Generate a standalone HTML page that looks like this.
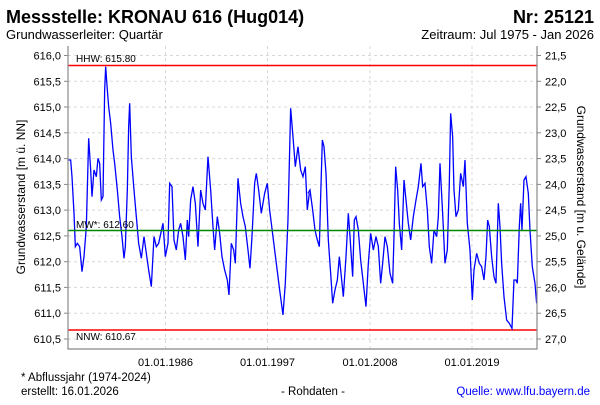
<!DOCTYPE html>
<html><head><meta charset="utf-8"><style>
body{margin:0;background:#fff;}
svg text{font-family:"Liberation Sans",sans-serif;}
</style></head><body>
<svg width="600" height="400" viewBox="0 0 600 400" xmlns="http://www.w3.org/2000/svg">
<rect width="600" height="400" fill="#fff"/>
<text x="6" y="23" font-size="18" font-weight="bold">Messstelle: KRONAU 616 (Hug014)</text>
<text x="594" y="23" font-size="18" font-weight="bold" text-anchor="end">Nr: 25121</text>
<text x="6" y="39" font-size="13">Grundwasserleiter: Quartär</text>
<text x="594" y="39" font-size="13" text-anchor="end">Zeitraum: Jul 1975 - Jan 2026</text>
<g stroke="#d8d8d8" stroke-dasharray="3,3" stroke-width="1">
<line x1="68" x2="537" y1="55.5" y2="55.5"/><line x1="68" x2="537" y1="81.3" y2="81.3"/><line x1="68" x2="537" y1="107" y2="107"/><line x1="68" x2="537" y1="132.8" y2="132.8"/><line x1="68" x2="537" y1="158.6" y2="158.6"/><line x1="68" x2="537" y1="184.4" y2="184.4"/><line x1="68" x2="537" y1="210.1" y2="210.1"/><line x1="68" x2="537" y1="235.9" y2="235.9"/><line x1="68" x2="537" y1="261.7" y2="261.7"/><line x1="68" x2="537" y1="287.4" y2="287.4"/><line x1="68" x2="537" y1="313.2" y2="313.2"/><line x1="68" x2="537" y1="339" y2="339"/>
<line x1="165.5" x2="165.5" y1="46" y2="349"/><line x1="267.5" x2="267.5" y1="46" y2="349"/><line x1="370" x2="370" y1="46" y2="349"/><line x1="472" x2="472" y1="46" y2="349"/>
</g>
<line x1="68" x2="537" y1="65.5" y2="65.5" stroke="#f00" stroke-width="1.5"/>
<line x1="68" x2="537" y1="330" y2="330" stroke="#f00" stroke-width="1.5"/>
<g fill="none" stroke="#00f" stroke-width="1.3">
<polyline transform="translate(68,50) scale(0.3333)" vector-effect="non-scaling-stroke" points="0,330 8,330 12,380 18,490 22,590 28,580 35,590 42,665 48,620 55,530 62,265 68,360 72,440 78,360 85,380 90,325 95,340 100,450 105,440 110,120 113,50 118,120 122,170 128,220 135,300 140,340 148,420 155,500 162,560 168,625 172,590 178,420 182,230 185,160 190,320 198,420 205,500 212,580 220,625 228,560 235,610 242,660 250,710 258,560 265,590 272,580 285,520 292,620 300,580 305,400 312,410 318,570 325,600 332,540 338,520 345,560 352,630 358,510 362,560 368,450 375,410 382,460 390,590 398,420 405,460 412,480 420,320 428,420 435,530 440,600 448,500 455,550 462,620 470,660 478,690 483,735 490,580 497,600 502,640 510,385 518,460 525,500 532,530 540,600 546,655 552,560 560,400 565,370 572,420 580,490 590,430 598,400 605,480 615,560 625,640 635,720 645,795 652,700 660,510 668,175 675,260 682,350 690,290 698,360 705,380 712,350 718,480 724,430"/>
<polyline transform="translate(300,50) scale(0.3333)" vector-effect="non-scaling-stroke" points="24,430 30,420 38,480 45,540 52,570 58,590 62,440 67,270 72,290 78,370 85,570 92,670 98,760 105,720 112,690 118,620 125,690 130,740 138,620 145,490 150,560 158,680 163,510 168,500 175,540 182,630 190,700 198,770 205,640 212,550 220,600 228,560 235,590 242,700 248,640 255,560 262,590 270,670 278,700 282,560 287,350 293,420 298,520 305,600 312,390 318,450 325,520 332,570 340,500 348,450 355,410 363,340 368,410 375,400 382,480 388,590 395,640 402,540 410,560 415,500 420,340 428,490 435,640 442,600 448,400 452,190 458,260 462,420 468,500 475,480 482,370 490,410 495,330 502,520 510,600 517,750 522,660 530,610 538,640 545,650 552,690 558,620 563,510 568,530 575,620 582,680 588,700 595,460 600,530 605,640 612,740 620,810 628,820 636,835 642,690 648,690 652,700 658,530 662,460 666,540 672,390 678,380 685,430 690,540 697,650 705,700 710,760"/>
</g>
<line x1="68" x2="537" y1="230.5" y2="230.5" stroke="#080" stroke-width="1.5"/>
<text x="76" y="62" font-size="10">HHW: 615.80</text>
<text x="76" y="228" font-size="10">MW*: 612.60</text>
<text x="76" y="340" font-size="10">NNW: 610.67</text>
<path d="M68 46V349H537V46" fill="none" stroke="#888" stroke-width="1.2"/>
<g stroke="#888"><line x1="64" x2="68" y1="55.5" y2="55.5"/><line x1="64" x2="68" y1="81.3" y2="81.3"/><line x1="64" x2="68" y1="107" y2="107"/><line x1="64" x2="68" y1="132.8" y2="132.8"/><line x1="64" x2="68" y1="158.6" y2="158.6"/><line x1="64" x2="68" y1="184.4" y2="184.4"/><line x1="64" x2="68" y1="210.1" y2="210.1"/><line x1="64" x2="68" y1="235.9" y2="235.9"/><line x1="64" x2="68" y1="261.7" y2="261.7"/><line x1="64" x2="68" y1="287.4" y2="287.4"/><line x1="64" x2="68" y1="313.2" y2="313.2"/><line x1="64" x2="68" y1="339" y2="339"/>
<line x1="537" x2="541" y1="55.5" y2="55.5"/><line x1="537" x2="541" y1="81.3" y2="81.3"/><line x1="537" x2="541" y1="107" y2="107"/><line x1="537" x2="541" y1="132.8" y2="132.8"/><line x1="537" x2="541" y1="158.6" y2="158.6"/><line x1="537" x2="541" y1="184.4" y2="184.4"/><line x1="537" x2="541" y1="210.1" y2="210.1"/><line x1="537" x2="541" y1="235.9" y2="235.9"/><line x1="537" x2="541" y1="261.7" y2="261.7"/><line x1="537" x2="541" y1="287.4" y2="287.4"/><line x1="537" x2="541" y1="313.2" y2="313.2"/><line x1="537" x2="541" y1="339" y2="339"/></g>
<g font-size="11" text-anchor="end">
<text x="61" y="59.5">616,0</text><text x="61" y="85.3">615,5</text><text x="61" y="111">615,0</text><text x="61" y="136.8">614,5</text><text x="61" y="162.6">614,0</text><text x="61" y="188.4">613,5</text><text x="61" y="214.1">613,0</text><text x="61" y="239.9">612,5</text><text x="61" y="265.7">612,0</text><text x="61" y="291.4">611,5</text><text x="61" y="317.2">611,0</text><text x="61" y="343">610,5</text>
</g>
<g font-size="11">
<text x="545" y="59.5">21,5</text><text x="545" y="85.3">22,0</text><text x="545" y="111">22,5</text><text x="545" y="136.8">23,0</text><text x="545" y="162.6">23,5</text><text x="545" y="188.4">24,0</text><text x="545" y="214.1">24,5</text><text x="545" y="239.9">25,0</text><text x="545" y="265.7">25,5</text><text x="545" y="291.4">26,0</text><text x="545" y="317.2">26,5</text><text x="545" y="343">27,0</text>
</g>
<g font-size="11" text-anchor="middle">
<text x="165.5" y="366">01.01.1986</text><text x="267.5" y="366">01.01.1997</text><text x="370" y="366">01.01.2008</text><text x="472" y="366">01.01.2019</text>
</g>
<text transform="translate(25,197) rotate(-90)" font-size="12" text-anchor="middle">Grundwasserstand [m ü. NN]</text>
<text transform="translate(577,197) rotate(90)" font-size="12" text-anchor="middle">Grundwasserstand [m u. Gelände]</text>
<text x="21" y="381" font-size="11.5">* Abflussjahr (1974-2024)</text>
<text x="21" y="395" font-size="11.5">erstellt:  16.01.2026</text>
<text x="313" y="395" font-size="11.5" text-anchor="middle">- Rohdaten -</text>
<text x="590" y="395" font-size="11.5" text-anchor="end" fill="#00f">Quelle: www.lfu.bayern.de</text>
</svg>
</body></html>
